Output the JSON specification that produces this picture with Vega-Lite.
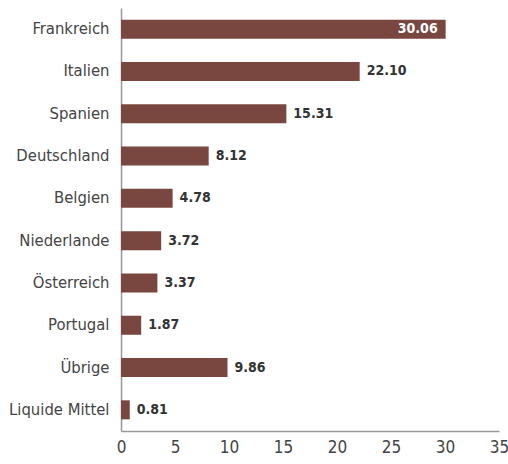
{
  "$schema": "https://vega.github.io/schema/vega-lite/v6.json",
  "autosize": {"type": "none"},
  "padding": {"left": 121, "top": 8, "right": 9, "bottom": 33},
  "width": 378,
  "height": 423,
  "background": "white",
  "data": {
    "values": [
      {"land": "Frankreich", "wert": 30.06},
      {"land": "Italien", "wert": 22.10},
      {"land": "Spanien", "wert": 15.31},
      {"land": "Deutschland", "wert": 8.12},
      {"land": "Belgien", "wert": 4.78},
      {"land": "Niederlande", "wert": 3.72},
      {"land": "Österreich", "wert": 3.37},
      {"land": "Portugal", "wert": 1.87},
      {"land": "Übrige", "wert": 9.86},
      {"land": "Liquide Mittel", "wert": 0.81}
    ]
  },
  "encoding": {
    "y": {
      "field": "land", "type": "nominal", "sort": null,
      "scale": {"paddingInner": 0.55, "paddingOuter": 0.275},
      "axis": {
        "title": null, "ticks": false, "domainColor": "#999999", "domainWidth": 1.5,
        "labelFont": "DejaVu Sans Condensed", "labelFontSize": 16.5, "labelColor": "#444444",
        "labelPadding": 12
      }
    },
    "x": {
      "field": "wert", "type": "quantitative",
      "scale": {"domain": [0, 35], "nice": false},
      "axis": {
        "title": null, "values": [0, 5, 10, 15, 20, 25, 30, 35], "grid": false, "ticks": false,
        "domainColor": "#999999", "domainWidth": 1.5,
        "labelFont": "DejaVu Sans Condensed", "labelFontSize": 17, "labelColor": "#444444",
        "labelPadding": 8, "labelFlush": false
      }
    }
  },
  "layer": [
    {"mark": {"type": "bar", "color": "#7A4640"}},
    {
      "transform": [{"filter": "datum.wert < 25"}],
      "mark": {"type": "text", "align": "left", "baseline": "middle", "dx": 7,
               "font": "DejaVu Sans Condensed", "fontWeight": "bold", "fontSize": 14, "color": "#333333"},
      "encoding": {"text": {"field": "wert", "type": "quantitative", "format": ".2f"}}
    },
    {
      "transform": [{"filter": "datum.wert >= 25"}],
      "mark": {"type": "text", "align": "right", "baseline": "middle", "dx": -8,
               "font": "DejaVu Sans Condensed", "fontWeight": "bold", "fontSize": 14, "color": "#ffffff"},
      "encoding": {"text": {"field": "wert", "type": "quantitative", "format": ".2f"}}
    }
  ],
  "config": {"view": {"stroke": null}}
}
